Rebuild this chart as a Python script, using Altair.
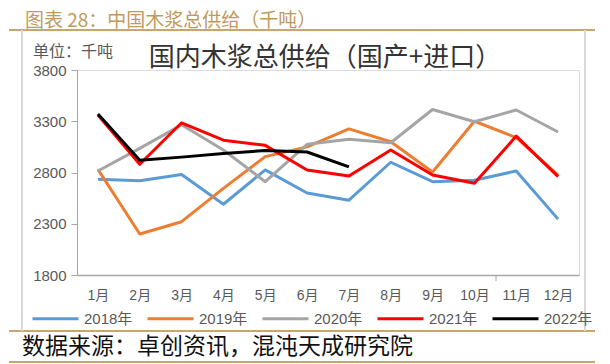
import altair as alt
import pandas as pd

months = ["1月", "2月", "3月", "4月", "5月", "6月", "7月", "8月", "9月", "10月", "11月", "12月"]
years = ["2018年", "2019年", "2020年", "2021年", "2022年"]
s2018 = [2735, 2720, 2780, 2490, 2825, 2600, 2530, 2900, 2710, 2725, 2815, 2345]
s2019 = [2830, 2200, 2320, 2645, 2955, 3050, 3225, 3100, 2805, 3300, 3140, 2775]
s2020 = [2815, 3035, 3265, 3020, 2710, 3075, 3125, 3090, 3415, 3295, 3410, 3195]
s2021 = [3360, 2880, 3285, 3115, 3065, 2825, 2765, 3020, 2775, 2695, 3155, 2760]
s2022 = [3370, 2920, 2950, 2985, 3015, 3000, 2855]
colors = ["#5B9BD5", "#ED7D31", "#A5A5A5", "#FF0000", "#000000"]
widths = [3, 3, 3, 3, 5]
y_ticks = [1800, 2300, 2800, 3300, 3800]

fig_title = "图表 28：中国木浆总供给（千吨）"
inner_title = "国内木浆总供给（国产+进口）"
unit_text = "单位：千吨"
source_text = "数据来源：卓创资讯，混沌天成研究院"

rows = []
for yr, vals in zip(years, [s2018, s2019, s2020, s2021, s2022]):
    for i, v in enumerate(vals):
        rows.append({"month": months[i], "year": yr, "value": v, "order": i})
df = pd.DataFrame(rows)

FONT = "Liberation Sans, Noto Sans CJK SC"
CJK = "Noto Sans CJK SC"
TAN = "#C9A66B"

lines = alt.Chart(df).mark_line(strokeJoin="round", strokeCap="butt").encode(
    x=alt.X("month:N", sort=months, scale=alt.Scale(type="point", padding=0.5),
            axis=alt.Axis(title=None, labelAngle=0, ticks=False, labelPadding=13,
                          labelFontSize=14, labelColor="#595959", labelFont=FONT,
                          domainColor="#A6A6A6", domainWidth=1.5)),
    y=alt.Y("value:Q", scale=alt.Scale(domain=[1800, 3800], nice=False, zero=False),
            axis=alt.Axis(title=None, values=y_ticks, format="d", grid=False, tickSize=6,
                          tickColor="#A6A6A6", domainColor="#A6A6A6", domainWidth=1,
                          labelPadding=5, labelFontSize=15, labelColor="#595959",
                          labelFont=FONT)),
    color=alt.Color("year:N", sort=years, scale=alt.Scale(domain=years, range=colors),
                    legend=alt.Legend(title=None, orient="none", legendX=-46, legendY=224,
                                      direction="horizontal", symbolType="stroke",
                                      symbolSize=2116, symbolStrokeWidth=4,
                                      labelFontSize=15, labelColor="#595959", labelFont=FONT,
                                      labelOffset=4, columnPadding=8, labelLimit=200)),
    strokeWidth=alt.StrokeWidth("year:N", scale=alt.Scale(domain=years, range=widths), legend=None),
    order=alt.Order("order:Q"),
)

one = pd.DataFrame({"a": [0]})

def rule(x, x2, y, y2, color, w):
    return alt.Chart(one).mark_rule(color=color, strokeWidth=w).encode(
        x=alt.value(x), x2=alt.value(x2), y=alt.value(y), y2=alt.value(y2))

def text(t, x, y, size, color, align="left", font=CJK, baseline="middle"):
    return alt.Chart(pd.DataFrame({"t": [t]})).mark_text(
        align=align, baseline=baseline, fontSize=size, color=color, font=font
    ).encode(x=alt.value(x), y=alt.value(y), text="t:N")

deco = [
    rule(-68, 518, -40, -40, TAN, 2),
    rule(-68, 518, 261, 261, TAN, 2),
    rule(-68, 518, 292, 292, TAN, 2),
    rule(-55, -55, -40, 261, "#D9D9D9", 2),
    rule(508, 508, -40, 261, "#D9D9D9", 2),
    rule(419, 419, 205, 211, "#A6A6A6", 1),
    text(fig_title, -52, -43.5, 19, "#C19A5B", baseline="alphabetic"),
    text(unit_text, -44, -18, 16, "#595959"),
    text(inner_title, 248, -12, 26, "#333333", align="center"),
    text(source_text, -55, 277, 23, "#111111"),
]

chart = alt.layer(*deco, lines).properties(
    width=502, height=205,
    autosize=alt.AutoSizeParams(type="none"),
    padding={"left": 69, "top": 62, "right": 23, "bottom": 89},
).configure_view(stroke=None).configure(background="white")

chart.save("out.html", embed_options={"renderer": "svg", "actions": False})
